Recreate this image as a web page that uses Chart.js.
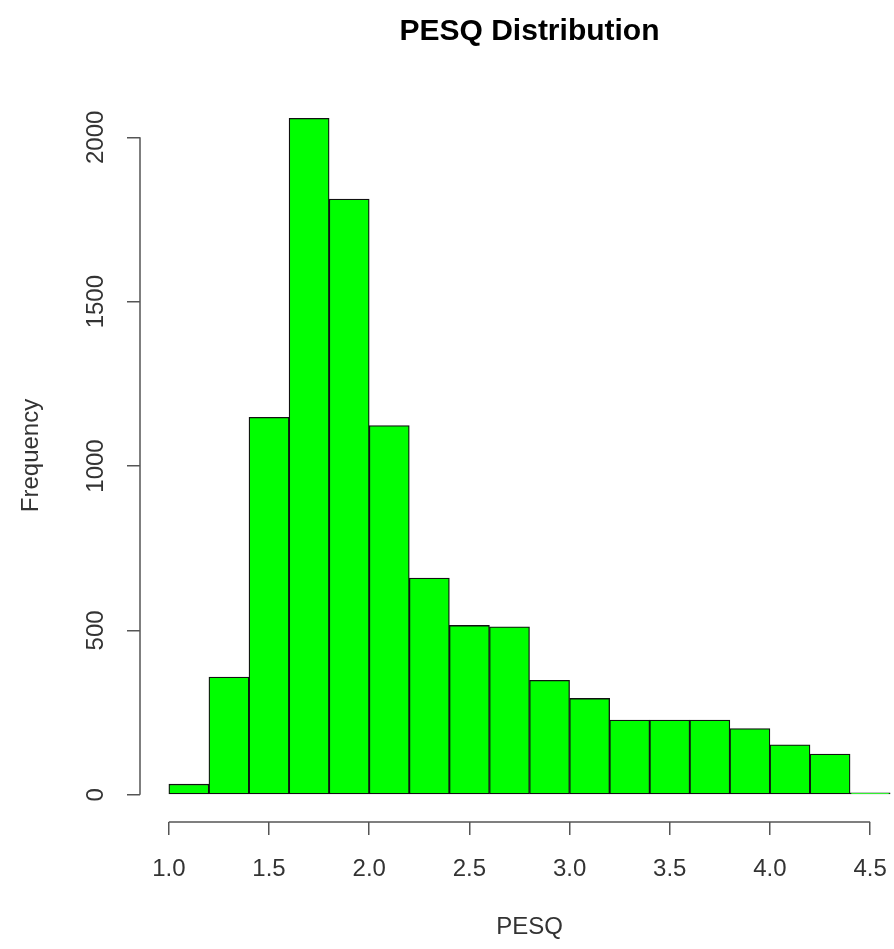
<!DOCTYPE html>
<html>
<head>
<meta charset="utf-8">
<script src="https://cdn.jsdelivr.net/npm/chart.js@4"></script>
<style>
  html, body { margin: 0; padding: 0; background: #fff; overflow: hidden; }
</style>
</head>
<body>
<canvas id="hist" width="919" height="949"></canvas>
<script>
// histogram bins (left edges), width 0.2
var binStarts = [1.0, 1.2, 1.4, 1.6, 1.8, 2.0, 2.2, 2.4, 2.6, 2.8, 3.0, 3.2, 3.4, 3.6, 3.8, 4.0, 4.2, 4.4];
var counts    = [32, 358, 1148, 2058, 1812, 1123, 659, 515, 511, 348, 293, 227, 227, 227, 201, 152, 124, 6];
var binWidth = 0.2;
var xTicks = [1.0, 1.5, 2.0, 2.5, 3.0, 3.5, 4.0, 4.5];
var yTicks = [0, 500, 1000, 1500, 2000];

var axisFont = { family: "'Liberation Sans', Arial, sans-serif", size: 24 };
var axisColor = '#555555';

// R style axes: lines only span from first to last tick
var rAxes = {
    id: 'rAxes',
    afterDraw: function(chart) {
        var ctx = chart.ctx;
        var x = chart.scales.x, y = chart.scales.y;
        var area = chart.chartArea;
        ctx.save();
        ctx.strokeStyle = axisColor;
        ctx.lineWidth = 1.5;
        ctx.beginPath();
        ctx.moveTo(x.getPixelForValue(xTicks[0]), area.bottom);
        ctx.lineTo(x.getPixelForValue(xTicks[xTicks.length - 1]), area.bottom);
        ctx.moveTo(area.left, y.getPixelForValue(yTicks[0]));
        ctx.lineTo(area.left, y.getPixelForValue(yTicks[yTicks.length - 1]));
        ctx.stroke();
        ctx.restore();
    }
};

var points = binStarts.map(function(s, i) {
    return { x: s + binWidth / 2, y: counts[i] };
});

new Chart(document.getElementById('hist'), {
    type: 'bar',
    data: {
        datasets: [{
            data: points,
            backgroundColor: '#00ff00',
            borderColor: '#111111',
            borderWidth: 1.3,
            borderSkipped: false,
            barPercentage: 1.0,
            categoryPercentage: 1.0
        }]
    },
    options: {
        responsive: false,
        animation: false,
        layout: { padding: 0 },
        plugins: {
            legend: { display: false },
            tooltip: { enabled: false },
            title: {
                display: true,
                text: 'PESQ Distribution',
                fullSize: false,
                color: '#000',
                font: { family: "'Liberation Sans', Arial, sans-serif", size: 30, weight: 'bold' },
                padding: { top: 14, bottom: 39 }
            }
        },
        scales: {
            x: {
                type: 'linear',
                min: 0.856,
                max: 4.744,
                offset: false,
                afterBuildTicks: function(scale) {
                    scale.ticks = xTicks.map(function(v) { return { value: v }; });
                },
                afterFit: function(scale) { scale.height = 127; },
                grid: { display: true, offset: false, drawOnChartArea: false, drawTicks: true, tickLength: 13, color: axisColor, lineWidth: 1.5 },
                border: { display: false },
                ticks: {
                    color: '#333',
                    font: axisFont,
                    padding: 20,
                    maxRotation: 0,
                    callback: function(v) { return v.toFixed(1); }
                },
                title: {
                    display: true,
                    text: 'PESQ',
                    color: '#333',
                    font: axisFont,
                    padding: { top: 0, bottom: 7 }
                }
            },
            y: {
                min: -83,
                max: 2147,
                afterBuildTicks: function(scale) {
                    scale.ticks = yTicks.map(function(v) { return { value: v }; });
                },
                afterFit: function(scale) { scale.width = 140; },
                grid: { display: true, drawOnChartArea: false, drawTicks: true, tickLength: 13, color: axisColor, lineWidth: 1.5 },
                border: { display: false },
                ticks: {
                    color: '#333',
                    font: axisFont,
                    padding: 4,
                    minRotation: 90,
                    maxRotation: 90,
                    crossAlign: 'center',
                    callback: function(v) { return String(v); }
                },
                title: {
                    display: true,
                    text: 'Frequency',
                    color: '#333',
                    font: axisFont,
                    padding: { top: 17, bottom: 0 }
                }
            }
        }
    },
    plugins: [rAxes]
});
</script>
</body>
</html>
